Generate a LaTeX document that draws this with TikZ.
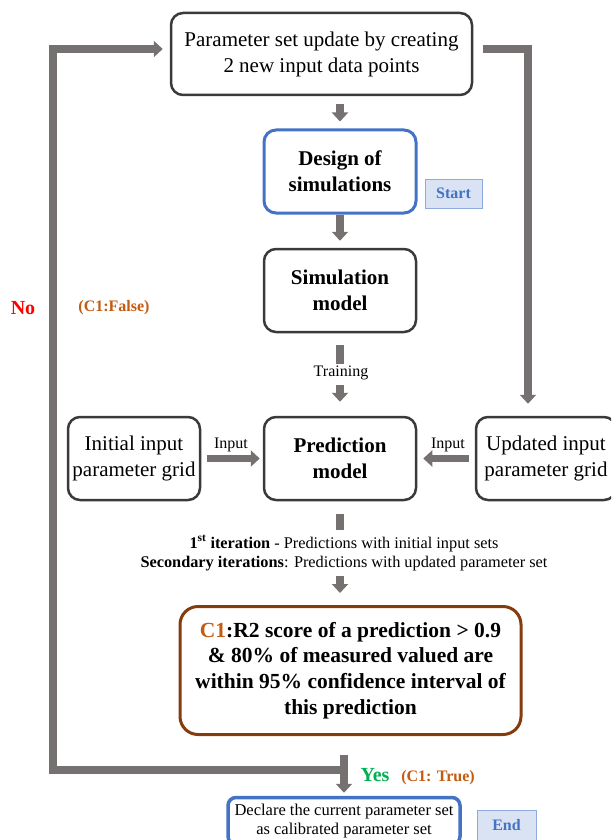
\documentclass[tikz,border=0pt]{standalone}
\usepackage{fontspec}
\setmainfont{Liberation Serif}
\usetikzlibrary{arrows.meta}
\definecolor{agray}{HTML}{767171}
\definecolor{bdark}{HTML}{3A3A3A}
\definecolor{bblue}{HTML}{4472C4}
\definecolor{bbrown}{HTML}{843C0C}
\definecolor{corange}{HTML}{C55A11}
\definecolor{cgreen}{HTML}{00B050}
\definecolor{cred}{HTML}{FF0000}
\definecolor{lblue}{HTML}{DAE3F3}
\definecolor{lbord}{HTML}{8FAADC}
\begin{document}
\begin{tikzpicture}[x=1pt,y=-1pt,
  box/.style={draw=bdark, line width=2.5pt, rounded corners=12pt, align=center, inner sep=0pt,
    font=\fontsize{21}{26}\selectfont},
  bluebox/.style={box, draw=bblue, line width=3pt},
  tagbox/.style={draw=lbord, fill=lblue, line width=1pt, inner sep=0pt, text=bblue,
    font=\fontsize{16}{19}\selectfont\bfseries},
  garrow/.style={draw=agray, line width=7.5pt, line join=miter,
    -{Triangle[width=16pt,length=9pt]}},
  gshaft/.style={draw=agray, line width=7.5pt},
  lbl/.style={inner sep=0pt, font=\fontsize{16}{19}\selectfont}]
\useasboundingbox (0,0) rectangle (611,840);
\clip (0,0) rectangle (611,840);

% boxes
\node[box, minimum width=301pt, minimum height=82pt] (param) at (321.5,54)
  {Parameter set update by creating\\2 new input data points};
\node[bluebox, minimum width=152pt, minimum height=83pt, font=\fontsize{21}{26}\selectfont\bfseries] (design) at (340,171.5)
  {Design of\\simulations};
\node[tagbox, minimum width=57pt, minimum height=29pt] (start) at (453.5,193.5) {Start};
\node[box, minimum width=152pt, minimum height=83pt, font=\fontsize{21}{26}\selectfont\bfseries] (sim) at (340,290.5)
  {Simulation\\model};
\node[box, minimum width=132pt, minimum height=83pt] (init) at (134,458.5)
  {Initial input\\parameter grid};
\node[box, minimum width=152pt, minimum height=83pt, font=\fontsize{21}{26}\selectfont\bfseries] (pred) at (340,458.5)
  {Prediction\\model};
\node[box, minimum width=140pt, minimum height=83pt] (upd) at (546,458.5)
  {Updated input\\parameter grid};
\node[box, draw=bbrown, line width=3pt, rounded corners=18pt, minimum width=341pt, minimum height=128pt,
  font=\fontsize{21.5}{25.8}\selectfont\bfseries] (c1) at (350.5,670.5)
  {\textcolor{corange}{C1}:R2 score of a prediction > 0.9\\\& 80\% of measured valued are\\within 95\% confidence interval of\\this prediction};
\node[bluebox, line width=3.5pt, rounded corners=8pt, minimum width=232pt, minimum height=47pt, font=\fontsize{16.5}{19}\selectfont] (declare) at (344,821)
  {Declare the current parameter set\\as calibrated parameter set};
\node[tagbox, minimum width=59pt, minimum height=44pt, text depth=14pt] (end) at (506.5,832) {End};

% labels
\node[lbl] (train) at (341,373) {Training};
\node[lbl, align=center, font=\fontsize{16.3}{19}\selectfont] (iter) at (344,553)
  {\textbf{1\textsuperscript{st} iteration} - Predictions with initial input sets\\
   \textbf{Secondary iterations}: Predictions with updated parameter set};
\node[lbl] (inl) at (231,445) {Input};
\node[lbl] (inr) at (448,445) {Input};
\node[inner sep=0pt, text=cred, font=\fontsize{20}{24}\selectfont\bfseries] (no) at (23,308) {No};
\node[inner sep=0pt, text=corange, font=\fontsize{16}{19}\selectfont\bfseries] (cf) at (114,308) {(C1:False)};
\node[inner sep=0pt, text=cgreen, font=\fontsize{20}{24}\selectfont\bfseries] (yes) at (375,775) {Yes};
\node[inner sep=0pt, text=corange, font=\fontsize{16}{19}\selectfont\bfseries] (ct) at (438,778) {(C1: True)};

% coordinates
\coordinate (jn) at (344,770);
\coordinate (lc) at (53,49);
\coordinate (rc) at (528,49);

% connectors
\draw[garrow, shorten <=8pt, shorten >=7pt] (design.north |- param.south) -- (design.north);
\draw[garrow, shorten >=7pt] (design.south) -- (sim.north);
\draw[gshaft, shorten <=12pt, shorten >=2pt] (sim.south) -- (sim.south |- train.north);
\draw[garrow, shorten <=5pt, shorten >=14pt] (sim.south |- train.south) -- (pred.north);
\draw[garrow, shorten <=6pt, shorten >=3pt] (init.east) -- (pred.west);
\draw[garrow, shorten <=6pt, shorten >=6pt] (upd.west) -- (pred.east);
\draw[gshaft, shorten <=13pt, shorten >=5pt] (pred.south) -- (pred.south |- iter.north);
\draw[garrow, shorten <=5pt, shorten >=12pt] (pred.south |- iter.south) -- (pred.south |- c1.north);
\draw[garrow] ([xshift=10pt]param.east |- rc) -- (rc) -- ([shift={(-18pt,12pt)}]upd.north);
\draw[garrow] (jn) -| (lc) -- ([xshift=-7pt]param.west |- lc);
\draw[garrow, shorten <=19pt, shorten >=3pt] (c1.south -| jn) -- (declare.north -| jn);
\end{tikzpicture}
\end{document}
